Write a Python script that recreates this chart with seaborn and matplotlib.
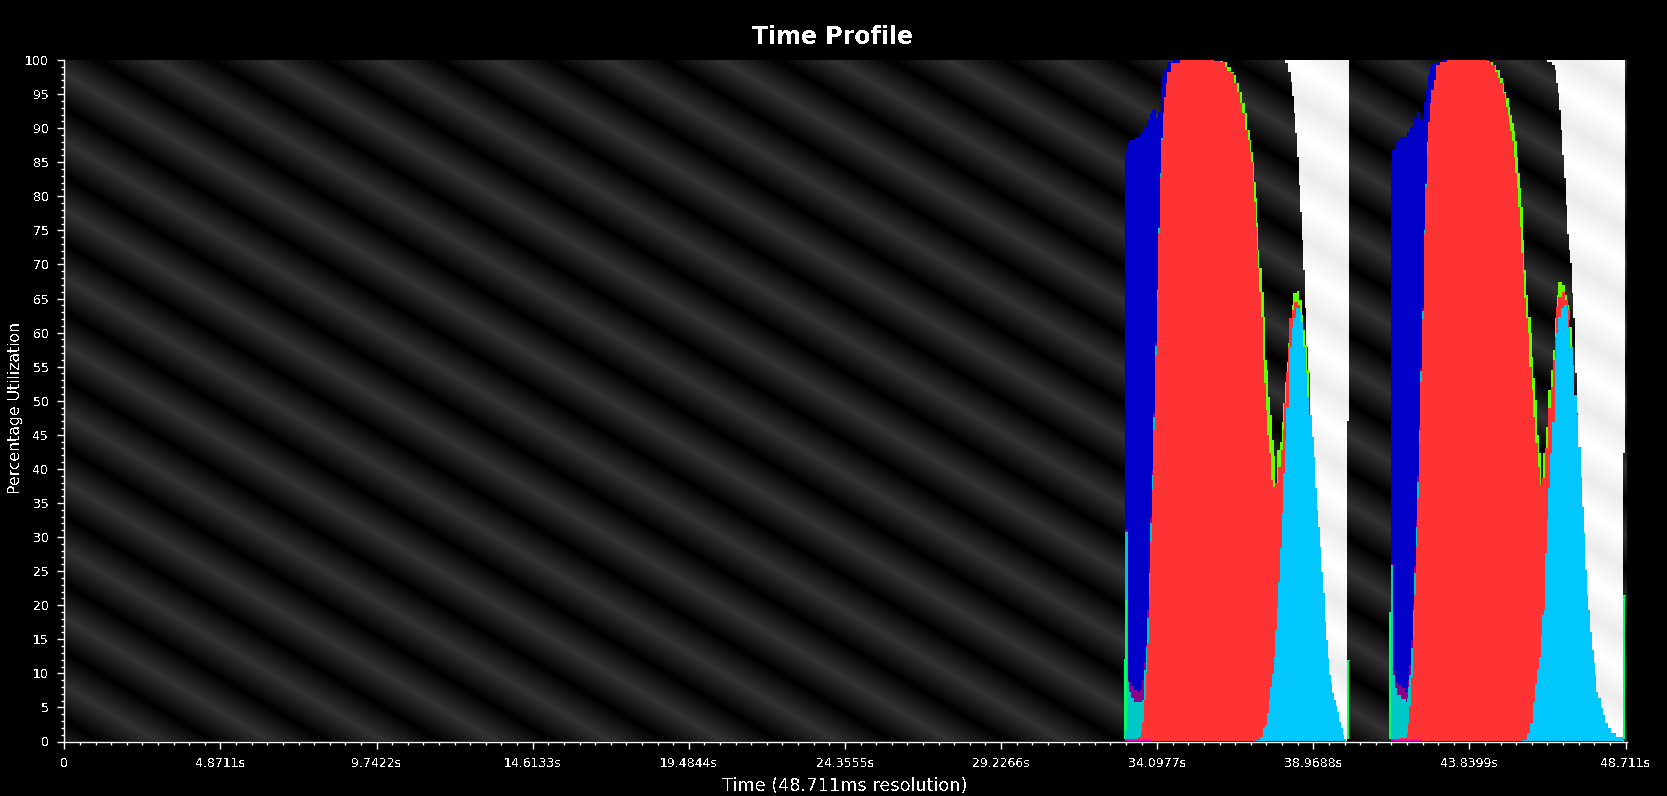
import numpy as np
import matplotlib
matplotlib.use("Agg")
import matplotlib.pyplot as plt
import seaborn as sns

# values: time in seconds, utilization in percent
# first burst
blue_t_1 = [33.09, 33.15, 33.25, 33.40, 33.56, 33.67, 33.78, 33.87, 33.93, 34.03, 34.09, 34.12, 34.21, 34.25, 34.28, 34.40, 34.59, 34.81]
blue_1 = [86.5, 87.8, 88.3, 88.7, 89.3, 90.2, 91.2, 92.2, 92.7, 91.5, 90.5, 92.4, 96.0, 97.5, 98.5, 99.7, 100, 100]
purple_t_1 = [33.09, 33.15, 33.18, 33.25, 33.34, 33.47, 33.56, 33.62, 33.68, 33.75, 33.78, 33.84, 33.87, 33.93, 33.96, 34.03, 34.09, 34.12, 34.18, 34.21, 34.28]
purple_1 = [31.0, 9.0, 8.7, 8.1, 7.5, 7.2, 7.5, 9.0, 11.6, 14.1, 19.3, 25.6, 32.9, 39.8, 48.2, 58.5, 66.4, 75.5, 83.4, 88.6, 92.2]
teal_t_1 = [33.09, 33.15, 33.18, 33.25, 33.34, 33.56, 33.62, 33.68, 33.75, 33.78, 33.84, 33.87, 33.93, 33.96, 34.03, 34.09, 34.12, 34.18, 34.21, 34.28]
teal_1 = [30.7, 8.7, 7.2, 6.4, 5.8, 5.8, 6.1, 10.5, 13.8, 18.1, 24.7, 32.0, 39.1, 47.6, 58.0, 66.2, 75.3, 83.4, 88.6, 92.2]
red_t_1 = [33.34, 33.50, 33.59, 33.62, 33.68, 33.75, 33.78, 33.84, 33.87, 33.93, 33.96, 34.03, 34.09, 34.12, 34.18, 34.21, 34.28, 34.31, 34.37, 34.40, 34.53, 34.81, 35.84,
           36.02, 36.18, 36.24, 36.37, 36.46, 36.55, 36.65, 36.71, 36.80, 36.90, 36.96, 36.99, 37.05, 37.08, 37.15, 37.18, 37.21, 37.24, 37.30, 37.37, 37.40, 37.46, 37.49, 37.55, 37.62, 37.68,
           37.77, 37.87, 37.96, 38.02, 38.05, 38.12, 38.18, 38.21, 38.30, 38.37, 38.46, 38.52, 38.55, 38.62]
red_1 = [0.3, 0.6, 1.4, 2.8, 6.1, 10.0, 14.4, 21.5, 29.3, 36.9, 45.7, 56.7, 65.1, 74.6, 82.8, 88.3, 92.2, 94.6, 96.6, 98.2, 99.6, 100, 99.9,
         99.7, 99.0, 98.4, 98.1, 96.6, 95.3, 93.7, 92.2, 89.7, 88.3, 86.5, 85.0, 82.1, 79.1, 75.5, 72.1, 69.5, 65.9, 62.3, 56.0, 52.6, 48.6, 45.0, 42.3, 38.4, 37.3,
         37.9, 40.3, 42.8, 45.7, 49.7, 54.2, 57.9, 62.1, 63.3, 64.5, 64.0, 62.1, 60.5, 57.9]
green_t_1 = [35.84, 36.12, 36.24, 36.37, 36.46, 36.52, 36.62, 36.71, 36.80, 36.87, 36.96, 36.99, 37.05, 37.08, 37.15, 37.18, 37.21, 37.24, 37.33, 37.40, 37.43, 37.49, 37.52, 37.58, 37.65, 37.71, 37.74,
             37.83, 37.93, 37.99, 38.02, 38.08, 38.15, 38.18, 38.24, 38.30, 38.33, 38.46, 38.49, 38.58, 38.62, 38.68, 38.74, 38.80]
green_1 = [99.9, 99.7, 99.0, 98.2, 97.8, 96.6, 95.3, 93.7, 92.2, 89.7, 88.3, 86.5, 85.0, 82.1, 79.7, 76.1, 72.1, 69.5, 65.9, 62.3, 56.0, 54.5, 50.5, 47.9, 44.2, 41.9, 37.3,
           42.8, 43.9, 46.9, 49.7, 52.7, 55.7, 58.5, 62.1, 64.0, 65.8, 66.1, 64.8, 62.6, 60.4, 58.2, 54.5, 50.5]
sky_t_1 = [37.15, 37.30, 37.40, 37.46, 37.52, 37.58, 37.62, 37.68, 37.74, 37.77, 37.83, 37.87, 37.93, 37.99, 38.02, 38.08, 38.12, 38.21, 38.30, 38.33, 38.43, 38.49, 38.55, 38.62, 38.71, 38.74, 38.80,
           38.90, 38.96, 38.99, 39.05, 39.08, 39.15, 39.18, 39.24, 39.30, 39.33, 39.40, 39.43, 39.49, 39.52, 39.58, 39.65, 39.68, 39.74, 39.80, 39.87, 39.90, 39.96]
sky_1 = [0.2, 0.6, 2.0, 2.4, 4.2, 6.1, 8.0, 9.9, 12.4, 16.3, 19.7, 23.4, 28.4, 33.5, 39.4, 44.2, 49.1, 57.9, 60.8, 62.1, 63.6, 63.0, 61.5, 57.9, 54.1, 50.5, 47.9,
         44.7, 41.7, 37.2, 33.9, 31.5, 28.5, 24.8, 21.8, 17.5, 14.9, 12.2, 9.7, 8.6, 7.1, 6.1, 5.2, 4.3, 2.8, 2.0, 0.9, 0.3, 0.1]
white_t_1 = [37.93, 38.08, 38.18, 38.27, 38.30, 38.37, 38.40, 38.46, 38.52, 38.55, 38.62, 38.65, 38.71, 38.74, 38.80, 38.87, 38.90, 38.96, 38.99, 39.05, 40.02, 40.09]
white_1 = [100, 99.6, 98.2, 96.8, 94.7, 92.2, 89.3, 85.8, 81.6, 77.7, 73.6, 69.2, 63.6, 57.9, 54.1, 47.9, 42.0, 38.6, 33.9, 0, 47.0, 47.0]

# second burst
blue_t_2 = [41.39, 41.42, 41.52, 41.67, 41.89, 41.98, 42.08, 42.20, 42.26, 42.36, 42.42, 42.48, 42.54, 42.61, 42.67, 42.83, 42.98, 43.14]
blue_2 = [85.0, 86.8, 88.0, 88.7, 89.4, 90.2, 91.6, 92.4, 91.2, 90.0, 93.8, 95.6, 97.8, 98.8, 99.6, 99.9, 100, 100]
purple_t_2 = [41.39, 41.42, 41.48, 41.58, 41.67, 41.80, 41.89, 41.92, 41.95, 42.02, 42.08, 42.11, 42.17, 42.20, 42.26, 42.30, 42.36, 42.42, 42.45, 42.51]
purple_2 = [26.1, 10.5, 8.7, 8.3, 7.8, 7.2, 7.8, 9.0, 11.2, 14.9, 20.0, 25.7, 32.5, 38.9, 46.4, 54.8, 63.6, 75.2, 82.0, 88.0]
teal_t_2 = [41.39, 41.42, 41.48, 41.55, 41.67, 41.83, 41.89, 41.92, 41.95, 42.02, 42.08, 42.11, 42.17, 42.20, 42.26, 42.30, 42.36, 42.42, 42.45, 42.51]
teal_2 = [25.9, 9.7, 7.8, 6.8, 6.2, 5.8, 6.4, 8.0, 9.7, 13.7, 19.3, 24.7, 31.5, 38.1, 45.7, 54.4, 63.1, 75.0, 81.8, 88.0]
red_t_2 = [41.42, 41.67, 41.89, 41.92, 41.95, 42.02, 42.08, 42.11, 42.17, 42.20, 42.26, 42.30, 42.36, 42.42, 42.45, 42.51, 42.54, 42.61, 42.64, 42.73, 42.79, 42.92, 43.14, 44.10,
           44.35, 44.48, 44.60, 44.70, 44.76, 44.85, 44.92, 44.95, 45.01, 45.04, 45.07, 45.13, 45.20, 45.23, 45.29, 45.32, 45.38, 45.42, 45.48, 45.51, 45.57, 45.63, 45.67, 45.76, 45.79, 45.85, 45.95, 46.01,
           46.10, 46.19, 46.29, 46.38, 46.44, 46.51, 46.54, 46.60, 46.73, 46.79, 46.88, 46.94]
red_2 = [0.3, 0.5, 1.2, 2.7, 5.2, 9.4, 15.3, 21.5, 28.5, 35.7, 43.8, 52.7, 62.0, 74.5, 81.4, 86.0, 90.9, 93.7, 95.6, 97.1, 99.3, 99.7, 100, 100,
         99.7, 99.3, 98.2, 97.4, 96.6, 95.2, 94.4, 93.1, 91.9, 90.7, 89.6, 88.1, 85.8, 83.4, 81.2, 78.4, 75.5, 71.7, 68.7, 65.1, 62.1, 59.9, 54.9, 51.6, 47.6, 43.8, 40.3, 37.6,
         38.6, 43.1, 48.9, 52.0, 56.0, 59.3, 63.7, 65.2, 65.9, 64.8, 63.3, 62.0]
green_t_2 = [44.10, 44.42, 44.54, 44.63, 44.76, 44.85, 44.88, 44.95, 45.04, 45.07, 45.13, 45.20, 45.23, 45.29, 45.32, 45.38, 45.42, 45.48, 45.51, 45.57, 45.63, 45.73, 45.76, 45.79, 45.85, 45.91, 45.98, 46.04,
             46.13, 46.23, 46.29, 46.38, 46.44, 46.51, 46.57, 46.60, 46.69, 46.79, 46.85, 46.91, 47.00]
green_2 = [99.9, 99.7, 99.3, 98.5, 97.4, 96.6, 95.3, 94.4, 93.1, 91.9, 90.7, 89.6, 88.1, 85.8, 83.4, 81.2, 78.4, 73.6, 69.2, 65.5, 62.3, 59.9, 56.4, 53.3, 50.1, 45.0, 42.3, 37.6,
           42.3, 46.1, 51.6, 54.5, 57.4, 62.1, 65.5, 67.4, 67.0, 65.5, 64.0, 60.8, 55.0]
sky_t_2 = [45.48, 45.63, 45.73, 45.82, 45.88, 45.95, 46.01, 46.07, 46.10, 46.16, 46.19, 46.26, 46.29, 46.35, 46.41, 46.51, 46.54, 46.60, 46.69, 46.79, 46.85, 46.88, 46.94, 47.04, 47.07, 47.16, 47.20, 47.29, 47.32, 47.38,
           47.41, 47.48, 47.51, 47.57, 47.63, 47.69, 47.73, 47.76, 47.82, 47.91, 47.98, 48.04, 48.13, 48.23, 48.38, 48.60, 48.63]
sky_2 = [0.2, 1.2, 2.7, 5.8, 8.6, 10.6, 12.4, 15.6, 18.5, 19.3, 27.6, 32.6, 37.2, 42.3, 46.9, 56.4, 59.9, 62.3, 63.6, 64.0, 63.3, 60.7, 57.9, 55.2, 50.8, 47.9, 43.2, 38.8, 34.4, 30.6,
         25.1, 21.5, 19.3, 16.0, 13.4, 11.5, 9.7, 7.2, 6.4, 4.9, 3.9, 2.7, 2.0, 1.2, 0.6, 0.2, 0.1]
white_t_2 = [46.07, 46.26, 46.41, 46.51, 46.54, 46.60, 46.63, 46.69, 46.73, 46.79, 46.85, 46.88, 46.94, 46.98, 47.04, 47.07, 47.13, 47.20, 47.23, 47.29, 47.32, 47.38, 48.63, 48.69]
white_2 = [100, 99.7, 99.3, 98.5, 96.6, 95.2, 92.7, 89.7, 86.0, 82.7, 78.7, 74.5, 72.1, 70.2, 65.8, 62.1, 54.1, 48.2, 42.8, 38.8, 32.9, 0, 42.3, 42.3]

# thin edge series
edge_t_1 = [33.06, 33.09, 33.15]
edge_1 = [12.1, 20.7, 20.7]
edge_low_1 = [0.3, 1.7, 1.7]
edge_t_1b = [40.02, 40.09]
edge_1b = [11.9, 11.9]
edge_t_2 = [41.33, 41.39]
edge_2 = [19.0, 19.0]
edge_t_2b = [48.63, 48.69]
edge_2b = [21.5, 21.5]
magenta_t_1 = [33.09, 33.90]
magenta_t_2 = [41.39, 42.36]
magenta = [0.35, 0.35]

x_ticks = [0, 4.8711, 9.7422, 14.6133, 19.4844, 24.3555, 29.2266, 34.0977, 38.9688, 43.8399, 48.711]
x_labels = ["0", "4.8711s", "9.7422s", "14.6133s", "19.4844s", "24.3555s", "29.2266s", "34.0977s", "38.9688s", "43.8399s", "48.711s"]

BLUE = "#0000C8"
PURPLE = "#8B008B"
TEAL = "#00C8C8"
RED = "#FF3333"
LIME = "#66FF00"
SKY = "#00C8FF"
SPRING = "#00FF66"
PINK = "#FF00C0"

sns.set_theme(style="dark", rc={"figure.facecolor": "black", "axes.facecolor": "black", "text.color": "white",
                                "axes.labelcolor": "white", "xtick.color": "white", "ytick.color": "white",
                                "axes.edgecolor": "white", "text.antialiased": False})
plt.rcParams["font.family"] = ["DejaVu Sans"]

fig = plt.figure(figsize=(16.67, 7.96), dpi=100)
ax = fig.add_axes([64 / 1667, (796 - 741.5) / 796, 1563 / 1667, 681.5 / 796])
xlim = (-0.01, 48.756)
ax.set_xlim(*xlim)
ax.set_ylim(0, 100)


def stripes():
    # cyclic diagonal gradient behind the plot, 0 on the dark bands and 1 on the ridges
    px, py = np.meshgrid(np.arange(64, 1627), np.arange(60, 742))
    u = ((py - 80) - 0.6 * (px - 300)) / 68.0
    return np.abs(1 - 2 * (u % 1))


back = stripes()
extent = [xlim[0], xlim[1], 0, 100]
ax.imshow(back * 50, cmap="gray", vmin=0, vmax=255, extent=extent, aspect="auto", interpolation="nearest", zorder=0)


def area(t, top, color, low=0):
    # one stepped band, edge drawn by seaborn so the steps stay crisp
    poly = ax.fill_between(t, low, top, step="post", color=color, lw=0, antialiased=False, zorder=2)
    sns.lineplot(x=t, y=top, color=color, lw=0.4, drawstyle="steps-post", estimator=None, sort=False, ax=ax, antialiased=False, zorder=2)
    return poly


def white_band(t, bottom):
    poly = ax.fill_between(t, bottom, 100, step="post", color="white", lw=0, antialiased=False, zorder=1)
    im = ax.imshow(236 + back * 19, cmap="gray", vmin=0, vmax=255, extent=extent, aspect="auto", interpolation="nearest", zorder=1.5)
    im.set_clip_path(poly.get_paths()[0], transform=poly.get_transform())


white_band(white_t_1, white_1)
white_band(white_t_2, white_2)

for t_blue, v_blue, t_green, v_green, t_purple, v_purple, t_teal, v_teal, t_red, v_red, t_sky, v_sky in [
    (blue_t_1, blue_1, green_t_1, green_1, purple_t_1, purple_1, teal_t_1, teal_1, red_t_1, red_1, sky_t_1, sky_1),
    (blue_t_2, blue_2, green_t_2, green_2, purple_t_2, purple_2, teal_t_2, teal_2, red_t_2, red_2, sky_t_2, sky_2),
]:
    area(t_blue, v_blue, BLUE)
    area(t_green, v_green, LIME)
    area(t_purple, v_purple, PURPLE)
    area(t_teal, v_teal, TEAL)
    area(t_red, v_red, RED)
    area(t_sky, v_sky, SKY)

area(edge_t_1, edge_1, SPRING, low=edge_low_1)
area(edge_t_1b, edge_1b, SPRING, low=0.3)
area(edge_t_2, edge_2, SPRING, low=0.3)
area(edge_t_2b, edge_2b, SPRING, low=0.3)
area(magenta_t_1, magenta, PINK)
area(magenta_t_2, magenta, PINK)

# ticks and labels
ax.set_xlim(*xlim)
ax.set_ylim(0, 100)
ax.set_xticks(x_ticks, x_labels, fontsize=9)
ax.set_xticks(np.arange(0, 48.72, 0.48711), minor=True)
ax.set_yticks(np.arange(0, 101, 5))
ax.set_yticks(np.arange(0, 101, 1), minor=True)
ax.tick_params(axis="both", which="major", length=5, width=1, direction="out", labelsize=9, pad=6, left=True, bottom=True)
ax.tick_params(axis="both", which="minor", length=2, width=1, direction="out", left=True, bottom=True)
ax.grid(False)
sns.despine(ax=ax)
for side in ["left", "bottom"]:
    ax.spines[side].set_linewidth(1)
ax.set_xlabel("Time (48.711ms resolution)", fontsize=12.8)
ax.set_ylabel("Percentage Utilization", fontsize=11.3)
ax.xaxis.set_label_coords(0.4995, -0.0525, transform=ax.transAxes)
ax.yaxis.set_label_coords(-0.0265, 0.489, transform=ax.transAxes)
fig.text(833 / 1667, 1 - 37 / 796, "Time Profile", fontsize=17, fontweight="bold", color="white", ha="center", va="center")

fig.savefig("out.png", dpi=100, facecolor="black")
